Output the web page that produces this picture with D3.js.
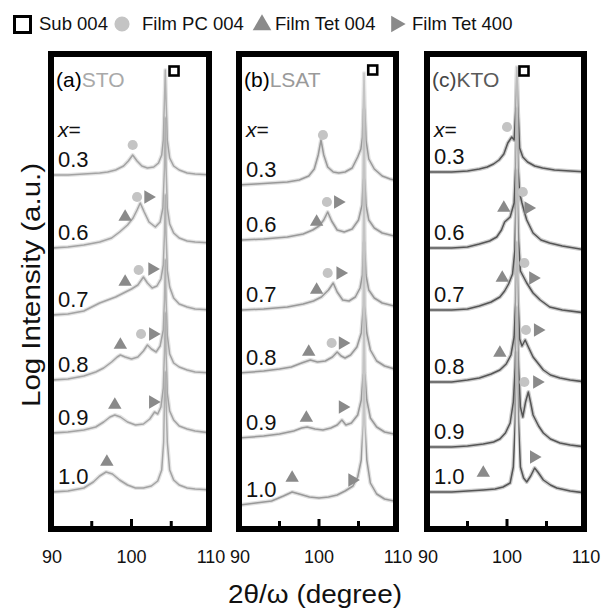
<!DOCTYPE html>
<html>
<head>
<meta charset="utf-8">
<script src="https://cdn.jsdelivr.net/npm/d3@7/dist/d3.min.js"></script>
<style>
  body { margin: 0; background: #fff; }
  text { font-family: "Liberation Sans", Arial, sans-serif; }
</style>
</head>
<body>
<svg id="chart"></svg>
<script>
const width = 607;
const height = 612;

// film compositions, substrates, axis ticks
const compositions = ['0.3', '0.6', '0.7', '0.8', '0.9', '1.0'];
const substrates = ['STO', 'LSAT', 'KTO'];
const panelTags = ['(a)', '(b)', '(c)'];
const tickLabels = [90, 100, 110];
const innerTicks = [95, 100, 105];

// substrate 004 peak position (2theta) per panel
const subPeaks = [104.25, 105.7, 101.25];

// vertical offset of each trace, log units (0.3 ... 1.0)
const offsetsSTO = [35.1, 27.8, 21.1, 14.6, 9.3, 3.4];
const offsetsLSAT = [34.1, 28.6, 21.6, 15.3, 8.8, 2.1];
const offsetsKTO = [35.4, 27.8, 21.6, 14.4, 7.9, 3.4];

// traces: [2theta, log intensity above offset]
const tracesSTO = [
  [[90,0],[92,0],[94,0.1],[96,0.2],[97,0.3],[98,0.5],[99,0.9],[99.6,1.4],[100.15,2.0],[100.7,1.4],[101.3,0.9],[102,0.7],[102.8,0.8],[103.4,1.2],[103.8,2.0],[104.0,3.5],[104.15,7.5],[104.25,10.5],[104.35,7.5],[104.5,3.5],[104.8,1.7],[105.3,0.9],[106,0.5],[107,0.2],[108,0.1],[110,0]],
  [[90,0],[92,0.1],[94,0.3],[96,0.6],[97.5,1.0],[98.5,1.6],[99.5,2.3],[100.2,3.0],[100.7,3.8],[101.1,4.5],[101.6,3.6],[102.2,2.6],[103,2.1],[103.6,2.6],[103.95,4],[104.15,8],[104.25,13],[104.35,8],[104.5,4],[104.8,2.4],[105.3,1.5],[106,1.0],[107,0.7],[108,0.6],[110,0.5]],
  [[90,0],[92,0.1],[94,0.4],[95,0.8],[96,1.2],[97,1.5],[98,1.8],[99,2.2],[100,2.6],[100.8,3.0],[101.5,3.8],[102,3.2],[102.6,2.7],[103.2,2.9],[103.7,3.6],[104.0,5],[104.15,8],[104.25,12],[104.35,8],[104.5,4.5],[104.8,2.8],[105.3,1.7],[106,1.1],[107,0.8],[108,0.6],[110,0.5]],
  [[90,0],[92,0.1],[94,0.4],[95.5,0.8],[96.5,1.2],[97.5,1.8],[98.2,2.3],[98.6,2.5],[99.2,2.3],[100,2.1],[100.8,2.3],[101.5,2.9],[102,3.5],[102.5,3.1],[103.1,2.8],[103.6,3.4],[104.0,5],[104.15,8],[104.25,12],[104.35,8],[104.5,4.5],[104.8,2.6],[105.3,1.7],[106,1.3],[107,1.0],[108,0.8],[110,0.7]],
  [[90,0],[92,0.1],[94,0.3],[95.5,0.6],[96.5,1.1],[97.3,1.6],[97.9,1.8],[98.6,1.6],[99.5,1.1],[100.5,0.8],[101.5,0.9],[102.3,1.4],[102.9,2.1],[103.3,1.9],[103.7,2.6],[104.0,4.5],[104.15,8],[104.25,12],[104.35,8],[104.5,4],[104.8,2.2],[105.3,1.3],[106,0.7],[107,0.4],[108,0.2],[110,0]],
  [[90,0],[92,0.1],[94,0.4],[95.2,1.0],[96,1.6],[96.8,2.0],[97.6,1.8],[98.5,1.2],[99.5,0.7],[100.5,0.4],[101.5,0.4],[102.5,0.6],[103.3,1.1],[103.8,2.2],[104.05,5],[104.15,9],[104.25,12],[104.35,9],[104.5,5],[104.8,2.2],[105.3,1.2],[106,0.7],[107,0.4],[108,0.3],[110,0.2]]
];

const tracesLSAT = [
  [[90,0],[92,0.1],[94,0.2],[96,0.3],[97.5,0.5],[98.7,0.9],[99.4,1.6],[99.9,3.0],[100.25,4.5],[100.6,3.0],[101.1,1.8],[101.8,1.3],[102.5,1.2],[103.3,1.3],[104.2,1.7],[104.9,2.8],[105.3,3.6],[105.5,4.8],[105.62,8],[105.7,11.2],[105.78,8],[105.95,4.5],[106.3,2.6],[107,1.6],[108,0.9],[109,0.6],[110,0.4]],
  [[90,0],[93,0.1],[96,0.3],[98,0.6],[99.2,1.0],[100,1.4],[100.6,2.0],[101.1,2.8],[101.6,1.9],[102.3,1.0],[103.2,0.8],[104.2,1.1],[105,2.0],[105.45,3.5],[105.6,6],[105.7,13],[105.8,6],[105.95,3.5],[106.3,2.0],[107,1.2],[108,0.7],[110,0.3]],
  [[90,0],[93,0.1],[96,0.3],[98,0.6],[99.3,0.9],[100.3,1.3],[101.2,2.0],[101.8,2.7],[102.3,1.8],[103,1.0],[103.8,0.9],[104.6,1.3],[105.2,2.2],[105.5,3.5],[105.6,6],[105.7,13],[105.8,6],[105.95,3.5],[106.3,2.0],[107,1.2],[108,0.7],[110,0.3]],
  [[90,0],[93,0.2],[95,0.4],[96.5,0.6],[97.8,1.0],[98.9,1.3],[99.8,1.1],[100.8,1.2],[101.7,1.6],[102.3,2.1],[102.8,1.7],[103.3,1.5],[104,1.8],[104.8,2.6],[105.35,4],[105.6,6.5],[105.7,13],[105.8,6.5],[106.05,4],[106.5,2.3],[107.3,1.2],[108.3,0.7],[110,0.3]],
  [[90,0],[93,0.2],[95,0.4],[96.8,0.7],[97.8,1.0],[98.5,1.1],[99.5,0.9],[100.5,0.8],[101.5,1.0],[102.3,1.3],[102.9,1.8],[103.4,1.3],[104.1,1.5],[104.9,2.3],[105.35,3.8],[105.6,6.5],[105.7,13],[105.8,6.5],[106.05,3.8],[106.5,2.0],[107.3,1.1],[108.3,0.6],[110,0.3]],
  [[90,0],[92,0.2],[94,0.4],[95.5,0.9],[96.6,1.3],[97.5,1.1],[98.8,0.8],[100,0.7],[101.2,0.8],[102.3,1.0],[103.3,1.4],[104.3,1.9],[104.9,2.8],[105.35,4.5],[105.6,8],[105.7,13],[105.8,8],[106.05,4.5],[106.5,2.2],[107.3,1.1],[108.3,0.6],[110,0.3]]
];

const tracesKTO = [
  [[90,0],[93,0],[95,0.1],[96.5,0.3],[97.5,0.5],[98.3,0.8],[99,1.2],[99.6,1.8],[100.1,2.9],[100.6,3.5],[100.9,3.2],[101.1,6],[101.25,10.5],[101.4,6],[101.6,2.4],[102,1.5],[102.6,1.0],[103.5,0.6],[104.5,0.4],[106,0.2],[108,0.1],[110,0]],
  [[90,0],[93,0],[95,0.1],[96.5,0.4],[97.8,0.7],[98.7,1.1],[99.3,1.8],[99.7,2.6],[100.4,3.1],[100.9,4.5],[101.1,8],[101.25,14],[101.4,8],[101.6,5.5],[101.9,4.5],[102.2,3.6],[102.5,2.8],[103.3,1.5],[104.3,0.8],[105.4,0.5],[107,0.2],[110,-0.2]],
  [[90,0],[93,0],[95,0.1],[96.5,0.4],[98,0.8],[99.1,1.3],[99.7,1.9],[100.2,2.6],[100.7,3.6],[101.0,6],[101.25,14],[101.45,7],[101.7,3.9],[102.1,3.3],[102.5,2.7],[103.3,1.7],[104.2,1.0],[105.4,0.3],[107,0],[110,-0.3]],
  [[90,0],[93,0],[95,0.2],[96.5,0.4],[98,0.8],[99.1,1.2],[99.9,1.8],[100.5,2.7],[100.9,4.5],[101.1,8],[101.25,14],[101.4,8],[101.6,4.3],[101.9,3.6],[102.3,4.2],[102.7,3.5],[103.3,2.5],[104.6,1.2],[105.5,0.7],[106.7,0.4],[108,0.2],[110,0]],
  [[90,0],[93,0],[95,0.1],[97,0.3],[98.3,0.5],[99.1,0.8],[99.8,1.4],[100.4,2.4],[100.8,4.5],[101.05,8],[101.25,14],[101.45,8],[101.7,4],[102.0,3.0],[102.35,4.5],[102.7,5.5],[103.0,4.4],[103.3,3.2],[104,2.1],[104.6,1.4],[105.5,0.8],[106.7,0.4],[108,0.2],[110,0]],
  [[90,0],[93,0],[95,0.1],[97,0.2],[98.5,0.3],[99.5,0.5],[100.4,0.9],[100.8,2.5],[101.05,7],[101.25,14],[101.45,7],[101.7,2.5],[102.1,1.4],[102.5,1.0],[103.0,1.6],[103.5,2.4],[103.9,2.0],[104.6,1.2],[105.5,0.7],[106.3,0.4],[108,0.1],[110,-0.1]]
];

// peak markers: [2theta, log intensity]
const pcSTO = [[100.15,38.1],[100.7,32.9],[100.9,25.6],[101.2,19.2]];
const tet004STO = [[99.2,30.9],[99.2,24.4],[98.6,18.1],[97.9,12.1],[96.9,6.4]];
const tet400STO = [[102.1,32.9],[102.6,25.7],[102.7,19.2],[102.7,12.4]];
const subSTO = [[105.35,45.5]];

const pcLSAT = [[100.5,39.1],[101.0,32.4],[101.1,25.3],[101.6,18.3]];
const tet004LSAT = [[99.7,30.4],[99.7,23.6],[98.7,17.4],[98.4,10.8],[96.6,4.8]];
const tet400LSAT = [[102.4,32.4],[102.7,25.3],[103.0,18.3],[103.0,11.9],[104.2,4.6]];
const subLSAT = [[106.8,45.6]];

const pcKTO = [[100.0,39.9],[102.0,33.4],[102.2,26.3],[102.4,19.6],[102.2,14.4]];
const tet004KTO = [[99.6,31.8],[99.4,24.8],[99.1,17.3],[97.0,5.3]];
const tet400KTO = [[102.7,31.8],[103.3,24.8],[103.9,19.6],[103.8,14.4],[103.4,6.9]];
const subKTO = [[102.15,45.5]];

const panels = [
  { tag: panelTags[0], name: substrates[0], sub: subPeaks[0], offsets: offsetsSTO, traces: tracesSTO,
    pc: pcSTO, tet004: tet004STO, tet400: tet400STO, square: subSTO,
    range: [52, 211], nameColor: '#a9a9a9', traceColor: '#a3a3a3', peakColor: '#b0b0b0' },
  { tag: panelTags[1], name: substrates[1], sub: subPeaks[1], offsets: offsetsLSAT, traces: tracesLSAT,
    pc: pcLSAT, tet004: tet004LSAT, tet400: tet400LSAT, square: subLSAT,
    range: [240, 398], nameColor: '#9a9a9a', traceColor: '#999999', peakColor: '#c4c4c4' },
  { tag: panelTags[2], name: substrates[2], sub: subPeaks[2], offsets: offsetsKTO, traces: tracesKTO,
    pc: pcKTO, tet004: tet004KTO, tet400: tet400KTO, square: subKTO,
    range: [428, 586], nameColor: '#5a5a5a', traceColor: '#555555', peakColor: '#bcbcbc' },
];

const frameTop = 54;
const frameBottom = 529;
const y = d3.scaleLinear().domain([0, 47]).range([526, 56]);

const pcColor = '#c4c4c4';
const tetColor = '#8a8a8a';

const svg = d3.select('#chart')
  .attr('width', width)
  .attr('height', height);

const defs = svg.append('defs');

panels.forEach((p, pi) => {
  const x = d3.scaleLinear().domain([90, 110]).range(p.range);
  const g = svg.append('g');

  // clip to the inside of the frame
  defs.append('clipPath').attr('id', `clip${pi}`)
    .append('rect')
      .attr('x', p.range[0] + 2)
      .attr('y', frameTop + 3)
      .attr('width', p.range[1] - p.range[0] - 5)
      .attr('height', frameBottom - frameTop - 6);

  // substrate peak drawn lighter than the film part of the trace
  const grad = defs.append('linearGradient')
    .attr('id', `grad${pi}`)
    .attr('gradientUnits', 'userSpaceOnUse')
    .attr('x1', x(90)).attr('x2', x(110))
    .attr('y1', 0).attr('y2', 0);
  const f = (v) => (x(v) - x(90)) / (x(110) - x(90));
  [[0, p.traceColor], [f(p.sub - 0.3), p.traceColor], [f(p.sub - 0.12), p.peakColor],
    [f(p.sub + 0.12), p.peakColor], [f(p.sub + 0.3), p.traceColor], [1, p.traceColor]]
    .forEach(([o, c]) => grad.append('stop').attr('offset', o).attr('stop-color', c));

  const line = d3.line()
    .x((d) => x(d[0]))
    .y((d) => y(d[1]));

  const plot = g.append('g').attr('clip-path', `url(#clip${pi})`);

  // faint wide underlay stands in for the counting noise band
  plot.selectAll('.band')
      .data(p.traces)
    .enter().append('path')
      .attr('class', 'band')
      .attr('d', (t, i) => line(t.map((d) => [d[0], d[1] + p.offsets[i]])))
      .attr('fill', 'none')
      .attr('stroke', `url(#grad${pi})`)
      .attr('stroke-width', 4)
      .attr('stroke-opacity', 0.3)
      .attr('stroke-linejoin', 'round');

  plot.selectAll('.trace')
      .data(p.traces)
    .enter().append('path')
      .attr('class', 'trace')
      .attr('d', (t, i) => line(t.map((d) => [d[0], d[1] + p.offsets[i]])))
      .attr('fill', 'none')
      .attr('stroke', `url(#grad${pi})`)
      .attr('stroke-width', 1.5)
      .attr('stroke-linejoin', 'round');

  // markers
  const circle = d3.symbol().type(d3.symbolCircle).size(80);
  const tri = d3.symbol().type(d3.symbolTriangle).size(78);

  plot.selectAll('.pc')
      .data(p.pc)
    .enter().append('path')
      .attr('d', circle)
      .attr('transform', (d) => `translate(${x(d[0])},${y(d[1])})`)
      .attr('fill', pcColor);

  plot.selectAll('.t004')
      .data(p.tet004)
    .enter().append('path')
      .attr('d', tri)
      .attr('transform', (d) => `translate(${x(d[0])},${y(d[1])})`)
      .attr('fill', tetColor);

  plot.selectAll('.t400')
      .data(p.tet400)
    .enter().append('path')
      .attr('d', tri)
      .attr('transform', (d) => `translate(${x(d[0])},${y(d[1])}) rotate(90)`)
      .attr('fill', tetColor);

  plot.selectAll('.sq')
      .data(p.square)
    .enter().append('rect')
      .attr('x', (d) => x(d[0]) - 4.5)
      .attr('y', (d) => y(d[1]) - 4.5)
      .attr('width', 9)
      .attr('height', 9)
      .attr('fill', 'none')
      .attr('stroke', '#000')
      .attr('stroke-width', 2.6);

  // panel title
  const title = g.append('text')
    .attr('x', p.range[0] + 4)
    .attr('y', 87)
    .attr('font-size', 21);
  title.append('tspan').attr('fill', pi === 2 ? '#444' : '#000').text(p.tag);
  title.append('tspan').attr('fill', p.nameColor).text(p.name);

  // x= label
  const xl = g.append('text')
    .attr('x', p.range[0] + 6)
    .attr('y', 137)
    .attr('font-size', 21)
    .attr('fill', '#111');
  xl.append('tspan').attr('font-style', 'italic').text('x');
  xl.append('tspan').text('=');

  // composition labels sit just above each trace's baseline
  g.selectAll('.comp')
      .data(compositions)
    .enter().append('text')
      .attr('x', p.range[0] + 6)
      .attr('y', (d, i) => y(p.offsets[i]) - 8)
      .attr('font-size', 22)
      .attr('fill', '#111')
      .text((d) => d);

  // frame
  g.append('rect')
    .attr('x', p.range[0] - 1)
    .attr('y', frameTop)
    .attr('width', p.range[1] - p.range[0] - 1)
    .attr('height', frameBottom - frameTop)
    .attr('fill', 'none')
    .attr('stroke', '#000')
    .attr('stroke-width', 6);

  // inner ticks on the bottom edge
  g.selectAll('.tick')
      .data(innerTicks)
    .enter().append('line')
      .attr('x1', (d) => x(d))
      .attr('x2', (d) => x(d))
      .attr('y1', frameBottom)
      .attr('y2', (d) => frameBottom - (d === 100 ? 10 : 8))
      .attr('stroke', '#000')
      .attr('stroke-width', 3);

  g.selectAll('.tlabel')
      .data(tickLabels)
    .enter().append('text')
      .attr('x', (d) => x(d))
      .attr('y', 563)
      .attr('text-anchor', 'middle')
      .attr('font-size', 18)
      .attr('fill', '#111')
      .text((d) => d);
});

// axis titles
svg.append('text')
  .attr('transform', 'translate(40,285) rotate(-90)')
  .attr('text-anchor', 'middle')
  .attr('font-size', 25)
  .attr('textLength', 244)
  .attr('lengthAdjust', 'spacingAndGlyphs')
  .attr('fill', '#111')
  .text('Log Intensity (a.u.)');

svg.append('text')
  .attr('x', 315)
  .attr('y', 603)
  .attr('text-anchor', 'middle')
  .attr('font-size', 25)
  .attr('textLength', 174)
  .attr('lengthAdjust', 'spacingAndGlyphs')
  .attr('fill', '#111')
  .text('2θ/ω (degree)');

// legend
const legendItems = ['Sub 004', 'Film PC 004', 'Film Tet 004', 'Film Tet 400'];
const legendX = [39, 142, 275, 412];
const legend = svg.append('g');
legend.append('rect')
  .attr('x', 14.5).attr('y', 16.5).attr('width', 16).attr('height', 16)
  .attr('fill', 'none').attr('stroke', '#000').attr('stroke-width', 3);
legend.append('path')
  .attr('d', d3.symbol().type(d3.symbolCircle).size(180)())
  .attr('transform', 'translate(122,24)')
  .attr('fill', pcColor);
legend.append('path')
  .attr('d', d3.symbol().type(d3.symbolTriangle).size(150)())
  .attr('transform', 'translate(262,25)')
  .attr('fill', tetColor);
legend.append('path')
  .attr('d', d3.symbol().type(d3.symbolTriangle).size(120)())
  .attr('transform', 'translate(396,24) rotate(90)')
  .attr('fill', tetColor);
legend.selectAll('.ltext')
    .data(legendItems)
  .enter().append('text')
    .attr('x', (d, i) => legendX[i])
    .attr('y', 30)
    .attr('font-size', 18.5)
    .attr('fill', '#111')
    .text((d) => d);
</script>
</body>
</html>
